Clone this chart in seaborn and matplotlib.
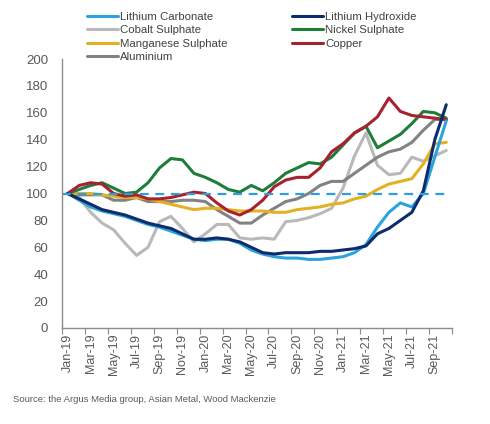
import numpy as np
import pandas as pd
import seaborn as sns
from matplotlib import pyplot as plt

months = ['Jan-19', 'Feb-19', 'Mar-19', 'Apr-19', 'May-19', 'Jun-19', 'Jul-19', 'Aug-19',
          'Sep-19', 'Oct-19', 'Nov-19', 'Dec-19', 'Jan-20', 'Feb-20', 'Mar-20', 'Apr-20',
          'May-20', 'Jun-20', 'Jul-20', 'Aug-20', 'Sep-20', 'Oct-20', 'Nov-20', 'Dec-20',
          'Jan-21', 'Feb-21', 'Mar-21', 'Apr-21', 'May-21', 'Jun-21', 'Jul-21', 'Aug-21',
          'Sep-21', 'Oct-21']

lithium_carbonate = [100, 95, 90, 87, 85, 83, 80, 77, 75, 72, 69, 66, 65, 66, 66, 63, 58,
                     55, 53, 52, 52, 51, 51, 52, 53, 56, 62, 75, 86, 93, 90, 100, 127, 154]
lithium_hydroxide = [100, 96, 92, 88, 86, 84, 81, 78, 76, 74, 70, 66, 66, 67, 66, 64, 60,
                     56, 55, 56, 56, 56, 57, 57, 58, 59, 61, 70, 74, 80, 86, 102, 140, 166]
cobalt_sulphate = [100, 97, 86, 78, 73, 63, 54, 60, 79, 83, 74, 64, 70, 77, 77, 67, 66,
                   67, 66, 79, 80, 82, 85, 89, 104, 128, 145, 121, 114, 115, 127, 124, 128, 132]
nickel_sulphate = [100, 103, 106, 108, 104, 100, 101, 108, 119, 126, 125, 115, 112, 108, 103, 101, 106,
                   102, 108, 115, 119, 123, 122, 127, 136, 145, 150, 134, 139, 144, 152, 161, 160, 156]
manganese_sulphate = [100, 100, 100, 99, 98, 97, 97, 96, 94, 92, 90, 88, 89, 89, 88, 87, 87,
                      87, 86, 86, 88, 89, 90, 92, 93, 96, 98, 103, 107, 109, 111, 122, 137, 138]
copper = [100, 106, 108, 107, 100, 98, 99, 96, 96, 97, 99, 101, 100, 93, 87, 84, 88,
          95, 105, 110, 112, 112, 119, 131, 137, 145, 150, 157, 171, 161, 158, 157, 156, 155]
aluminium = [100, 99, 99, 99, 95, 95, 97, 94, 94, 94, 95, 95, 94, 88, 83, 78, 78,
             84, 89, 94, 96, 100, 106, 109, 109, 115, 121, 127, 131, 133, 138, 147, 155, 155]

series = {
    'Lithium Carbonate': (lithium_carbonate, '#2AA3DF'),
    'Cobalt Sulphate': (cobalt_sulphate, '#B9B9B9'),
    'Manganese Sulphate': (manganese_sulphate, '#E2B224'),
    'Aluminium': (aluminium, '#828282'),
    'Lithium Hydroxide': (lithium_hydroxide, '#0E2B6B'),
    'Nickel Sulphate': (nickel_sulphate, '#1F7D3A'),
    'Copper': (copper, '#A7212E'),
}
draw_order = ['Cobalt Sulphate', 'Aluminium', 'Manganese Sulphate', 'Nickel Sulphate',
              'Copper', 'Lithium Carbonate', 'Lithium Hydroxide']

sns.set_style('white')
plt.rcParams['font.family'] = ['Liberation Sans', 'DejaVu Sans']

fig = plt.figure(figsize=(4.9, 4.24), dpi=100)
ax = fig.add_axes([62 / 490, 1 - 328 / 424, 390 / 490, 269 / 424])

x = np.arange(len(months))
handles = {}
for name in draw_order:
    vals, col = series[name]
    df = pd.DataFrame({'x': x, 'y': vals})
    sns.lineplot(data=df, x='x', y='y', ax=ax, color=col, linewidth=2.2, label=name)
    handles[name] = ax.get_lines()[-1]

# 100 = base level
ax.hlines(100, -0.5, 33.2, colors='#2E9FD8', linestyles=(0, (4, 3)), linewidth=1.6)

ax.set_xlim(-0.5, 33.5)
ax.set_ylim(0, 200)
ax.set_yticks(range(0, 201, 20))
ax.set_xticks(x[::2])
ax.set_xticklabels(months[::2], rotation=90)
ax.set_xticks(np.arange(-0.5, 34, 2), minor=True)
ax.tick_params(axis='x', which='major', length=0, pad=4, labelsize=9, labelcolor='#595959')
ax.tick_params(axis='x', which='minor', length=4, width=0.8, color='#888888', bottom=True)
ax.tick_params(axis='y', length=0, pad=10, labelsize=9.5, labelcolor='#595959')
ax.set_xlabel('')
ax.set_ylabel('')
for s in ['top', 'right']:
    ax.spines[s].set_visible(False)
for s in ['left', 'bottom']:
    ax.spines[s].set_color('#8C8C8C')
    ax.spines[s].set_linewidth(1.0)

ax.get_legend().remove()
legend_order = ['Lithium Carbonate', 'Cobalt Sulphate', 'Manganese Sulphate', 'Aluminium',
                'Lithium Hydroxide', 'Nickel Sulphate', 'Copper']
leg = fig.legend([handles[n] for n in legend_order], legend_order, ncol=2,
                 loc='upper left', bbox_to_anchor=(87 / 490, 1 - 12 / 424),
                 frameon=False, fontsize=8.2, handlelength=2.7, handletextpad=0.2,
                 columnspacing=5.7, labelspacing=0.3, borderpad=0, borderaxespad=0)
for t in leg.get_texts():
    t.set_color('#404040')

fig.text(13 / 490, 1 - 400 / 424, 'Source: the Argus Media group, Asian Metal, Wood Mackenzie',
         fontsize=6.8, color='#595959', va='center')

fig.savefig('out.png', dpi=100)
